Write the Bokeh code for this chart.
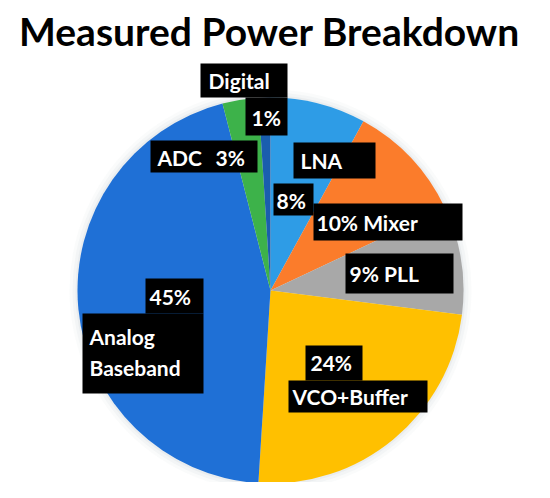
import math
from bokeh.plotting import figure
from bokeh.models import Range1d
from bokeh.core.properties import value
from bokeh.embed import file_html
from bokeh.resources import INLINE

# ---- data ----
categories = ["LNA", "Mixer", "PLL", "VCO+Buffer", "Analog Baseband", "ADC", "Digital"]
shares = [8, 10, 9, 24, 45, 3, 1]
colors = ["#2E9CE6", "#FB7C2B", "#A8A8A8", "#FFC000", "#1F70D6", "#3DB24A", "#1A5EAE"]
title_text = "Measured Power Breakdown"

# ---- layout (screen pixel coordinates of the 550x498 window) ----
W, H = 550, 498
PW, PH = W - 16, H - 16
CX, CY, R = 270, 290, 193   # pie centre / radius in screen px
FONT = "Lato"

def fy(s):  # screen y -> data y (data y grows upward)
    return H - s

# label boxes (x0, y0, x1, y1) in screen px
boxes = [
    (200, 63, 287, 97),    # Digital
    (245, 97, 287, 135),   # 1%
    (150, 140, 257, 172),  # ADC 3%
    (293, 142, 375, 178),  # LNA
    (273, 183, 313, 215),  # 8%
    (313, 203, 462, 240),  # 10% Mixer
    (345, 253, 453, 293),  # 9% PLL
    (145, 278, 203, 313),  # 45%
    (82, 313, 203, 393),   # Analog Baseband
    (305, 345, 362, 380),  # 24%
    (288, 380, 427, 412),  # VCO+Buffer
]
# label texts: (text, left x, centre y) in screen px
texts = [
    ("Digital", 208, 80),
    ("1%", 251, 117),
    ("ADC", 157, 157),
    ("3%", 215, 157),
    ("LNA", 300, 160),
    ("8%", 276, 200),
    ("10% Mixer", 316, 222),
    ("9% PLL", 349, 273),
    ("45%", 149, 296),
    ("Analog", 89, 336),
    ("Baseband", 89, 367),
    ("24%", 310, 362),
    ("VCO+Buffer", 292, 396),
]

p = figure(width=PW, height=PH, output_backend="svg", toolbar_location=None,
           x_range=Range1d(0, PW), y_range=Range1d(fy(PH), fy(0)),
           x_axis_location=None, y_axis_location=None, min_border=0,
           background_fill_color="white", border_fill_color="white")
p.grid.visible = False
p.outline_line_color = None

# soft halo around the pie
for dr, a in [(8, 0.10), (5, 0.15), (2, 0.25)]:
    p.circle(x=[CX], y=[fy(CY)], radius=R + dr, fill_color="#cfd6dc", fill_alpha=a,
             line_color=None)

# wedges clockwise from 12 o'clock
total = float(sum(shares))
starts, ends = [], []
cum = 0.0
for s in shares:
    a0 = math.pi / 2 - 2 * math.pi * cum / total
    cum += s
    a1 = math.pi / 2 - 2 * math.pi * cum / total
    starts.append(a1)
    ends.append(a0)
p.wedge(x=[CX] * len(shares), y=[fy(CY)] * len(shares), radius=R,
        start_angle=starts, end_angle=ends, fill_color=colors, line_color=None)

# label boxes
p.quad(left=[b[0] for b in boxes], right=[b[2] for b in boxes],
       top=[fy(b[1]) for b in boxes], bottom=[fy(b[3]) for b in boxes],
       fill_color="black", line_color=None)

# label texts
p.text(x=[t[1] for t in texts], y=[fy(t[2]) for t in texts], text=[t[0] for t in texts],
       text_font=value(FONT), text_font_style="bold", text_font_size="21px",
       text_color="white", text_align="left", text_baseline="middle")

# title
p.text(x=[PW / 2 + 2], y=[fy(30)], text=[title_text], text_font=value(FONT),
       text_font_style="bold", text_font_size="39px", text_color="black",
       text_align="center", text_baseline="middle")

open("out.html", "w").write(file_html(p, INLINE))
